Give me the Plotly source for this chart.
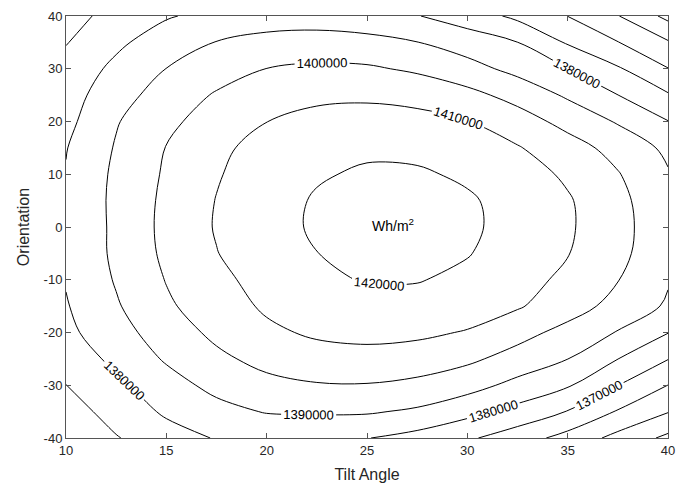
import plotly.graph_objects as go

# Tilt angle grid (x), orientation grid (y)
tilt = [10, 12.5, 15, 17.5, 20, 22.5, 25, 27.5, 30, 32.5, 35, 37.5, 40]
orientation = [-40, -35, -30, -25, -20, -15, -10, -5, 0, 5, 10, 15, 20, 25, 30, 35, 40]

# Annual irradiation (Wh/m2), one row per orientation value
row_m40 = [1361000, 1369400, 1375800, 1380600, 1381400, 1381300, 1380300, 1376600, 1371500, 1364700, 1356500, 1347000, 1337800]
row_m35 = [1365500, 1373800, 1381500, 1386800, 1390600, 1391200, 1391000, 1388500, 1383000, 1376900, 1369600, 1359200, 1350500]
row_m30 = [1369900, 1377800, 1386000, 1392800, 1397100, 1399300, 1399500, 1397700, 1393800, 1387100, 1381000, 1370100, 1359900]
row_m25 = [1373800, 1382500, 1391100, 1397800, 1403200, 1405900, 1406600, 1405200, 1401900, 1396300, 1390100, 1380100, 1370300]
row_m20 = [1377600, 1386400, 1394700, 1402300, 1408100, 1411500, 1412800, 1412000, 1409300, 1403300, 1397000, 1389400, 1380300]
row_m15 = [1379300, 1389000, 1398500, 1405400, 1411400, 1415400, 1417400, 1417300, 1415200, 1411000, 1404300, 1396800, 1388700]
row_m10 = [1380600, 1390800, 1400400, 1407400, 1413800, 1418500, 1420500, 1420400, 1418300, 1414100, 1407600, 1400300, 1390800]
row_m05 = [1380500, 1392100, 1401900, 1409700, 1415800, 1419900, 1422200, 1422300, 1420400, 1416400, 1410400, 1402600, 1393000]
row_p00 = [1380500, 1392200, 1402500, 1410700, 1416900, 1421100, 1423200, 1423300, 1421300, 1417300, 1411300, 1403200, 1393500]
row_p05 = [1381000, 1392300, 1402100, 1410300, 1416600, 1420800, 1422900, 1423000, 1421000, 1417000, 1411000, 1402600, 1393000]
row_p10 = [1380500, 1391900, 1401250, 1409200, 1415200, 1419200, 1421100, 1421000, 1418800, 1414600, 1408400, 1400600, 1390800]
row_p15 = [1379600, 1390800, 1400300, 1407800, 1413600, 1417100, 1418550, 1418000, 1415400, 1410700, 1404100, 1396600, 1387900]
row_p20 = [1377300, 1389300, 1397700, 1404600, 1409900, 1413100, 1414200, 1413300, 1410300, 1404500, 1396900, 1389100, 1380300]
row_p25 = [1375800, 1385800, 1394600, 1400900, 1405400, 1407800, 1408200, 1406600, 1402900, 1396600, 1388600, 1380100, 1371000]
row_p30 = [1373500, 1382300, 1390100, 1395800, 1400100, 1401700, 1401300, 1398500, 1393500, 1387100, 1380100, 1371100, 1360300]
row_p35 = [1369500, 1378000, 1385200, 1390300, 1393100, 1394000, 1393000, 1390200, 1385300, 1380100, 1369000, 1360300, 1351000]
row_p40 = [1366400, 1373300, 1379100, 1383000, 1385100, 1385400, 1383800, 1380400, 1375100, 1367800, 1359900, 1350400, 1337400]

irradiation = [row_m40, row_m35, row_m30, row_m25, row_m20, row_m15, row_m10, row_m05,
               row_p00, row_p05, row_p10, row_p15, row_p20, row_p25, row_p30, row_p35, row_p40]

x_ticks = [10, 15, 20, 25, 30, 35, 40]
x_ticktext = ["10", "15", "20", "25", "30", "35", "40"]
y_ticks = [-40, -30, -20, -10, 0, 10, 20, 30, 40]
y_ticktext = ["-40", "-30", "-20", "-10", "0", "10", "20", "30", "40"]

FONT = "Liberation Sans, Arial, Helvetica, sans-serif"
TXT = "#262626"

fig = go.Figure(go.Contour(
    x=tilt, y=orientation, z=irradiation,
    contours=dict(start=1340000, end=1420000, size=10000, coloring="lines",
                  showlabels=True, labelformat="d",
                  labelfont=dict(size=13, color="black", family=FONT)),
    line=dict(width=1, smoothing=1),
    colorscale=[[0, "black"], [1, "black"]],
    showscale=False, hoverinfo="skip",
))

axis_common = dict(
    showgrid=False, zeroline=False, showline=True, linecolor="#555555", linewidth=1,
    mirror="ticks", ticks="inside", ticklen=5, tickcolor="#555555",
    tickfont=dict(size=13, color=TXT, family=FONT),
)

fig.update_layout(
    width=684, height=492,
    margin=dict(l=66, r=15, t=9, b=54),
    paper_bgcolor="white", plot_bgcolor="white",
    font=dict(family=FONT, color=TXT),
    xaxis=dict(range=[10, 40], tickvals=x_ticks, ticktext=x_ticktext,
               title=dict(text="Tilt Angle", font=dict(size=16, color=TXT), standoff=12),
               **axis_common),
    yaxis=dict(range=[-40, 40], tickvals=y_ticks, ticktext=y_ticktext,
               title=dict(text="Orientation", font=dict(size=16, color=TXT), standoff=10),
               **axis_common),
    annotations=[dict(x=26.3, y=0.4, xref="x", yref="y", text="Wh/m<sup>2</sup>",
                      showarrow=False, font=dict(size=14, color="black", family=FONT))],
)

fig.write_html("out.html")
